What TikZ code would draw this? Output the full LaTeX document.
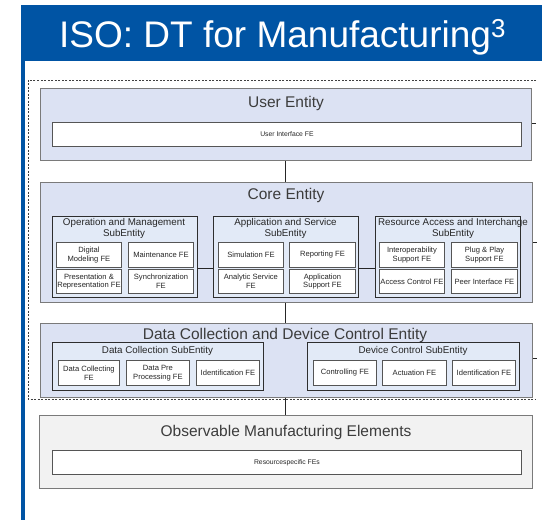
\documentclass[tikz,border=0pt]{standalone}
\usepackage{fontspec}
\setmainfont{Liberation Sans}
\definecolor{isoblue}{HTML}{0054A4}
\definecolor{entfill}{HTML}{DCE2F3}
\definecolor{subfill}{HTML}{E2EAF7}
\definecolor{obsfill}{HTML}{F2F2F2}
\definecolor{entline}{HTML}{7A7A7A}
\definecolor{subline}{HTML}{2E2E2E}
\definecolor{feline}{HTML}{555555}
\definecolor{titletext}{HTML}{3C3C3C}
\tikzset{
  entity/.style={draw=entline, fill=entfill, line width=0.9pt, anchor=north west, inner sep=0pt},
  obsent/.style={draw=entline, fill=obsfill, line width=0.9pt, anchor=north west, inner sep=0pt},
  subent/.style={draw=subline, fill=subfill, line width=1.3pt, anchor=north west, inner sep=0pt},
  febox/.style={draw=feline, fill=white, line width=0.9pt, anchor=north west, inner sep=0pt, align=center, font=\fontsize{7.6}{8.8}\selectfont, text=black!85},
  wide/.style={draw=feline, fill=white, line width=0.9pt, anchor=north west, inner sep=0pt, align=center, font=\fontsize{6.8}{8}\selectfont, text=black!85},
  enttitle/.style={font=\fontsize{15.5}{18}\selectfont, text=titletext, inner sep=0pt},
  subtitle/.style={font=\fontsize{9.8}{11.2}\selectfont, text=black!85, inner sep=0pt, align=center},
  conn/.style={draw=black!85, line width=0.9pt},
}
\begin{document}
\begin{tikzpicture}[x=1pt,y=-1pt]
\useasboundingbox (0,0) rectangle (542,520);
% frame
\fill[isoblue] (21,5) rectangle (542,61);
\fill[isoblue] (21,61) rectangle (25,520);
\node[anchor=base west, text=white, inner sep=0pt, font=\fontsize{37}{40}\selectfont] (title) at (59,47) {ISO: DT for Manufacturing\textsuperscript{3}};
% dashed boundary
\draw[dashed, dash pattern=on 2pt off 1.5pt, draw=black!75, line width=0.8pt] (536,80) -- (28,80) -- (28,399) -- (536,399);

% User entity
\node[entity, minimum width=491, minimum height=72] (user) at (40,88) {};
\node[enttitle] (usert) at (286,103) {User Entity};
\node[wide, minimum width=469, minimum height=24] (uife) at (52,122) {User Interface FE};

% Core entity
\node[entity, minimum width=492, minimum height=120] (core) at (40,182) {};
\node[enttitle] (coret) at (286,195) {Core Entity};

\node[subent, minimum width=145, minimum height=81] (op) at (52,216) {};
\node[subtitle, anchor=north] (opt) at (124,218) {Operation and Management\\SubEntity};
\node[febox, minimum width=65, minimum height=25] (dm) at (56,242) {Digital\\Modeling FE};
\node[febox, minimum width=65, minimum height=25] (mt) at (128,242) {Maintenance FE};
\node[febox, minimum width=65, minimum height=24] (pr) at (56,269) {Presentation \&\\Representation FE};
\node[febox, minimum width=65, minimum height=24] (sy) at (128,269) {Synchronization\\FE};

\node[subent, minimum width=145, minimum height=81] (app) at (213,216) {};
\node[subtitle, anchor=north] (appt) at (285.5,218) {Application and Service\\SubEntity};
\node[febox, minimum width=65, minimum height=25] (sim) at (218,242) {Simulation FE};
\node[febox, minimum width=66, minimum height=25] (rep) at (289,242) {Reporting FE};
\node[febox, minimum width=65, minimum height=24] (ana) at (218,269) {Analytic Service\\FE};
\node[febox, minimum width=66, minimum height=24] (aps) at (289,269) {Application\\Support FE};

\node[subent, minimum width=145, minimum height=81] (res) at (375,216) {};
\node[subtitle, anchor=north] (rest) at (453,218) {Resource Access and Interchange\\SubEntity};
\node[febox, minimum width=65, minimum height=25] (iop) at (379,242) {Interoperability\\Support FE};
\node[febox, minimum width=66, minimum height=25] (pnp) at (451,242) {Plug \& Play\\Support FE};
\node[febox, minimum width=65, minimum height=24] (acc) at (379,269) {Access Control FE};
\node[febox, minimum width=66, minimum height=24] (peer) at (451,269) {Peer Interface FE};

% Data collection and device control entity
\node[entity, minimum width=492, minimum height=74] (dc) at (40,323) {};
\node[enttitle] (dct) at (285,335) {Data Collection and Device Control Entity};

\node[subent, minimum width=211, minimum height=48] (dcs) at (52,342) {};
\node[subtitle, anchor=north] (dcst) at (157.5,346) {Data Collection SubEntity};
\node[febox, minimum width=61, minimum height=25] (dcol) at (58,360) {Data Collecting\\FE};
\node[febox, minimum width=63, minimum height=25] (dpre) at (126,360) {Data Pre\\Processing FE};
\node[febox, minimum width=63, minimum height=25] (idf1) at (196,360) {Identification FE};

\node[subent, minimum width=212, minimum height=48] (dvs) at (307,342) {};
\node[subtitle, anchor=north] (dvst) at (413,346) {Device Control SubEntity};
\node[febox, minimum width=63, minimum height=25] (ctl) at (313,360) {Controlling FE};
\node[febox, minimum width=64, minimum height=25] (act) at (382,360) {Actuation FE};
\node[febox, minimum width=63, minimum height=25] (idf2) at (452,360) {Identification FE};

% Observable manufacturing elements
\node[obsent, minimum width=493, minimum height=73] (obs) at (39,415) {};
\node[enttitle] (obst) at (286,432) {Observable Manufacturing Elements};
\node[wide, minimum width=469, minimum height=24] (rsfe) at (52,450) {Resourcespecific FEs};

% stubs on the right
\coordinate (s1) at (536,123);
\coordinate (s2) at (537,242);
\coordinate (s3) at (537,358);

% connectors
\draw[conn] (user.south -| 285,0) -- (core.north -| 285,0);
\draw[conn] (core.south -| 285,0) -- (dc.north -| 285,0);
\draw[conn] (dc.south -| 285,0) -- (obs.north -| 285,0);
\draw[conn] (op.east |- 0,268) -- (app.west |- 0,268);
\draw[conn] (app.east |- 0,268) -- (res.west |- 0,268);
\draw[conn] (user.east |- s1) -- (s1);
\draw[conn] (core.east |- s2) -- (s2);
\draw[conn] (dc.east |- s3) -- (s3);
\end{tikzpicture}
\end{document}
